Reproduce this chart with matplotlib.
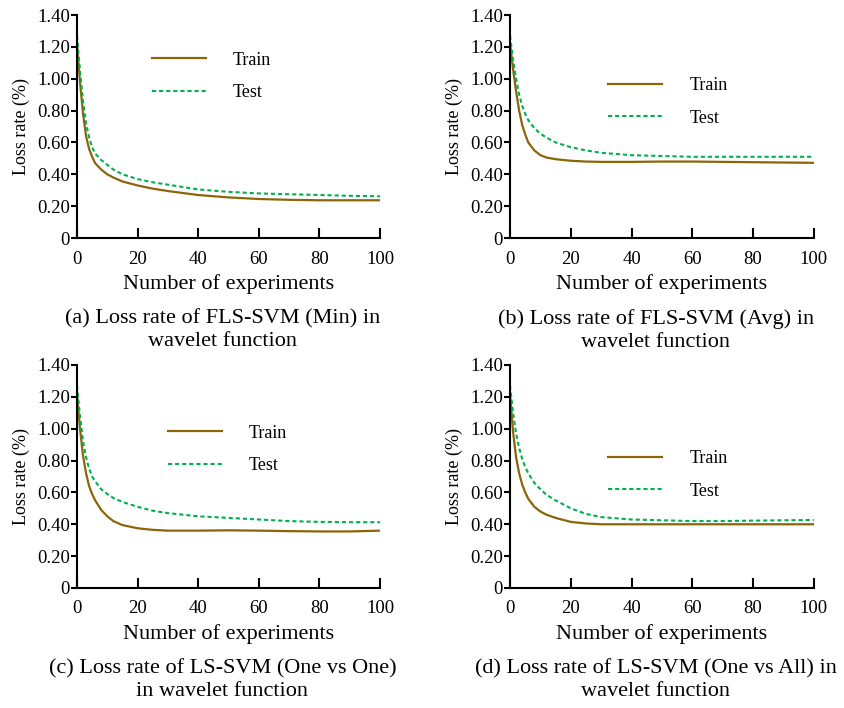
import matplotlib
matplotlib.use("Agg")
import matplotlib.pyplot as plt

plt.rcParams['font.family'] = ['Liberation Serif', 'DejaVu Serif']

# Dados
x = [0, 1, 2, 3, 4, 5, 6, 8, 10, 12, 15, 20, 25, 30, 40, 50, 60, 70, 80, 90, 100]

train_a = [1.22, 0.98, 0.78, 0.64, 0.56, 0.51, 0.47, 0.43, 0.40, 0.38, 0.355, 0.33, 0.31, 0.295, 0.27, 0.255, 0.245, 0.24, 0.237, 0.237, 0.237]
test_a = [1.27, 1.05, 0.86, 0.72, 0.63, 0.57, 0.53, 0.49, 0.46, 0.43, 0.40, 0.37, 0.35, 0.335, 0.305, 0.29, 0.28, 0.275, 0.27, 0.265, 0.262]

train_b = [1.22, 1.06, 0.92, 0.80, 0.71, 0.65, 0.60, 0.55, 0.52, 0.505, 0.495, 0.485, 0.48, 0.478, 0.478, 0.48, 0.48, 0.478, 0.476, 0.474, 0.472]
test_b = [1.27, 1.12, 1.00, 0.90, 0.83, 0.78, 0.74, 0.69, 0.655, 0.63, 0.60, 0.57, 0.55, 0.535, 0.52, 0.515, 0.51, 0.51, 0.51, 0.51, 0.51]

train_c = [1.22, 1.00, 0.83, 0.72, 0.64, 0.59, 0.55, 0.49, 0.45, 0.42, 0.395, 0.375, 0.365, 0.36, 0.36, 0.362, 0.36, 0.357, 0.355, 0.355, 0.36]
test_c = [1.27, 1.08, 0.92, 0.82, 0.75, 0.70, 0.67, 0.62, 0.59, 0.565, 0.54, 0.51, 0.485, 0.47, 0.45, 0.44, 0.43, 0.42, 0.415, 0.413, 0.413]

train_d = [1.22, 0.98, 0.82, 0.72, 0.65, 0.60, 0.56, 0.51, 0.48, 0.46, 0.44, 0.415, 0.405, 0.40, 0.40, 0.40, 0.40, 0.40, 0.40, 0.40, 0.40]
test_d = [1.27, 1.10, 0.97, 0.88, 0.81, 0.76, 0.72, 0.66, 0.62, 0.585, 0.55, 0.50, 0.465, 0.445, 0.43, 0.425, 0.42, 0.42, 0.423, 0.425, 0.427]

captions = [
    "(a) Loss rate of FLS-SVM (Min) in\nwavelet function",
    "(b) Loss rate of FLS-SVM (Avg) in\nwavelet function",
    "(c) Loss rate of LS-SVM (One vs One)\nin wavelet function",
    "(d) Loss rate of LS-SVM (One vs All) in\nwavelet function",
]
series = [(train_a, test_a), (train_b, test_b), (train_c, test_c), (train_d, test_d)]

yticks = [0, 0.2, 0.4, 0.6, 0.8, 1.0, 1.2, 1.4]
ytick_labels = ["0", "0.20", "0.40", "0.60", "0.80", "1.00", "1.20", "1.40"]
xticks = [0, 20, 40, 60, 80, 100]

# posição da legenda em fração dos eixos (canto esquerdo, centro vertical)
leg_pos = [(0.246, 0.725), (0.323, 0.61), (0.30, 0.622), (0.323, 0.507)]

# [left, bottom, width, height]
axes_rects = [
    [0.0912, 0.6638, 0.359, 0.315],
    [0.6043, 0.6638, 0.360, 0.315],
    [0.0912, 0.1695, 0.359, 0.315],
    [0.6043, 0.1695, 0.360, 0.315],
]

train_color = "#8B6508"
test_color = "#00B050"

fig = plt.figure(figsize=(8.44, 7.08), dpi=100)

for rect, (tr, te), cap, lp in zip(axes_rects, series, captions, leg_pos):
    ax = fig.add_axes(rect)
    ax.plot(x, tr, color=train_color, lw=1.6, label="Train")
    ax.plot(x, te, color=test_color, lw=1.5, ls=(0, (2, 1.4)), label="Test")

    ax.set_xlim(0, 100)
    ax.set_ylim(0, 1.4)
    ax.set_yticks(yticks)
    ax.set_yticklabels(ytick_labels)
    ax.set_xticks(xticks)

    for s in ["top", "right"]:
        ax.spines[s].set_visible(False)
    for s in ["left", "bottom"]:
        ax.spines[s].set_linewidth(1.5)

    ax.tick_params(axis="y", direction="out", length=4, width=1.5, pad=1, labelsize=13.5)
    ax.tick_params(axis="x", direction="in", length=7, width=1.5, pad=9, labelsize=13.5)

    ax.set_ylabel("Loss rate (%)", fontsize=13, labelpad=5)
    ax.set_xlabel("Number of experiments", fontsize=16, labelpad=5)

    ax.legend(loc="center left", bbox_to_anchor=lp, frameon=False,
              fontsize=13, handlelength=3.0, handletextpad=1.5,
              labelspacing=0.85, borderpad=0, borderaxespad=0)

    ax.text(0.48, -0.32, cap, transform=ax.transAxes, ha="center", va="top",
            fontsize=16, linespacing=1.25)

fig.savefig("out.png", dpi=100)
